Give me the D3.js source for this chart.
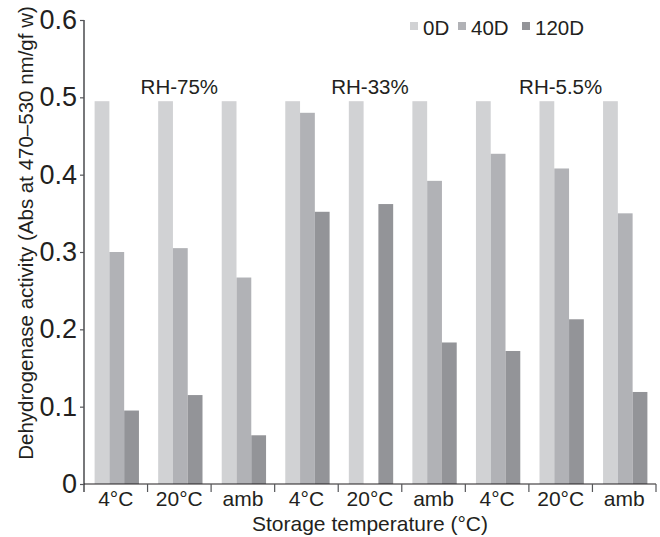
<!DOCTYPE html>
<html>
<head>
<meta charset="utf-8">
<script src="https://cdn.jsdelivr.net/npm/d3@7"></script>
<style>
  body { margin: 0; background: #fff; }
  svg text { font-family: "Liberation Sans", Arial, sans-serif; fill: #231f20; }
</style>
</head>
<body>
<div id="chart"></div>
<script>
// data
const groups = ["75-4", "75-20", "75-amb", "33-4", "33-20", "33-amb", "5.5-4", "5.5-20", "5.5-amb"];
const groupLabels = ["4°C", "20°C", "amb", "4°C", "20°C", "amb", "4°C", "20°C", "amb"];
const humidity = ["RH-75%", "RH-33%", "RH-5.5%"];
const seriesKeys = ["0D", "40D", "120D"];
const day0 = [0.495, 0.495, 0.495, 0.495, 0.495, 0.495, 0.495, 0.495, 0.495];
const day40 = [0.300, 0.305, 0.267, 0.480, null, 0.392, 0.427, 0.408, 0.350];
const day120 = [0.095, 0.115, 0.063, 0.352, 0.362, 0.183, 0.172, 0.213, 0.119];
const yTicks = [0, 0.1, 0.2, 0.3, 0.4, 0.5, 0.6];

const w = 660, h = 537;
const marginTop = 20, marginRight = 4, marginBottom = 53, marginLeft = 84;
const colors = ["#d1d2d4", "#b1b2b6", "#939498"];
const axisColor = "#555659";

const svg = d3.select("#chart").append("svg")
  .attr("width", w).attr("height", h);

const x0 = d3.scaleBand()
  .domain(groups)
  .range([marginLeft, w - marginRight])
  .padding(0);

const x1 = d3.scaleBand()
  .domain(seriesKeys)
  .range([1, x0.bandwidth() + 1])
  .paddingInner(0)
  .paddingOuter(0.65);

const y = d3.scaleLinear()
  .domain([0, 0.6])
  .range([h - marginBottom, marginTop]);

const color = d3.scaleOrdinal().domain(seriesKeys).range(colors);

const table = groups.map((g, i) => ({
  group: g,
  values: [day0[i], day40[i], day120[i]]
}));

// bars
svg.append("g")
  .selectAll("g")
  .data(table)
  .join("g")
  .attr("transform", d => `translate(${x0(d.group)},0)`)
  .selectAll("rect")
  .data(d => seriesKeys.map((k, j) => ({ key: k, value: d.values[j] })).filter(d => d.value != null))
  .join("rect")
  .attr("x", d => x1(d.key))
  .attr("width", x1.bandwidth())
  .attr("y", d => y(d.value))
  .attr("height", d => y(0) - y(d.value))
  .attr("fill", d => color(d.key));

// y axis
svg.append("g")
  .attr("transform", `translate(${marginLeft},0)`)
  .call(d3.axisLeft(y).tickValues(yTicks).tickSize(4).tickPadding(3)
    .tickFormat(d => d === 0 ? "0" : d3.format(".1f")(d)))
  .call(g => g.select(".domain").attr("stroke", axisColor).attr("stroke-width", 1.6)
    .attr("d", `M0,${marginTop}V${h - marginBottom + 8}`))
  .call(g => g.selectAll(".tick line").attr("stroke", axisColor).attr("stroke-width", 1.2))
  .call(g => g.selectAll(".tick text").attr("font-size", 27).attr("fill", "#231f20")
    .attr("font-family", "Liberation Sans, Arial, sans-serif"));

// x axis: baseline, group separators and labels
const xAxis = svg.append("g");
xAxis.append("line")
  .attr("x1", marginLeft).attr("x2", w - marginRight)
  .attr("y1", y(0)).attr("y2", y(0))
  .attr("stroke", "#231f20").attr("stroke-width", 1.2);

const seps = groups.map(g => x0(g)).concat([x0.range()[1]]);
xAxis.selectAll(".sep")
  .data(seps.slice(1))
  .join("line")
  .attr("class", "sep")
  .attr("x1", d => d).attr("x2", d => d)
  .attr("y1", y(0)).attr("y2", y(0) + 8)
  .attr("stroke", axisColor).attr("stroke-width", 1.2);

xAxis.selectAll(".glabel")
  .data(groups)
  .join("text")
  .attr("class", "glabel")
  .attr("x", d => x0(d) + x0.bandwidth() / 2)
  .attr("y", y(0) + 22)
  .attr("text-anchor", "middle")
  .attr("font-size", 21)
  .text((d, i) => groupLabels[i]);

svg.append("text")
  .attr("x", (marginLeft + w - marginRight) / 2)
  .attr("y", h - 6)
  .attr("text-anchor", "middle")
  .attr("font-size", 21)
  .text("Storage temperature (°C)");

// y label
svg.append("text")
  .attr("transform", `translate(33,233) rotate(-90)`)
  .attr("text-anchor", "middle")
  .attr("font-size", 20.5)
  .text("Dehydrogenase activity (Abs at 470–530 nm/gf w)");

// humidity labels over each triple of groups
svg.selectAll(".rh")
  .data(humidity)
  .join("text")
  .attr("class", "rh")
  .attr("x", (d, i) => (x0(groups[i * 3]) + x0(groups[i * 3 + 2]) + x0.bandwidth()) / 2)
  .attr("y", 94)
  .attr("text-anchor", "middle")
  .attr("font-size", 20.5)
  .text(d => d);

// legend
const legend = svg.append("g");
const legX = [410, 458, 522];
seriesKeys.forEach((k, i) => {
  legend.append("rect")
    .attr("x", legX[i]).attr("y", 22)
    .attr("width", 8).attr("height", 8)
    .attr("fill", color(k));
  legend.append("text")
    .attr("x", legX[i] + 13).attr("y", 35)
    .attr("font-size", 20.5)
    .text(k);
});
</script>
</body>
</html>
